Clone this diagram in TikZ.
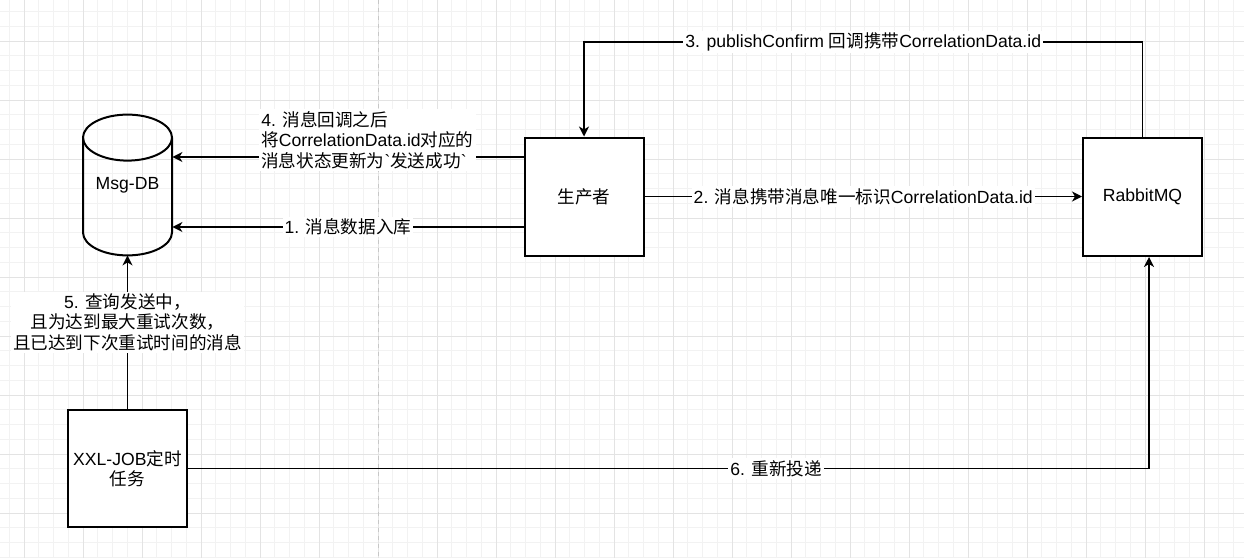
\documentclass[tikz,border=0pt]{standalone}
\usepackage{fontspec}
\setmainfont{Liberation Sans}
\newfontfamily\cjk{Noto Sans CJK SC}
\newfontfamily\rawfont{Liberation Sans}[Ligatures=TeXOff]
\usetikzlibrary{arrows.meta,calc}
\newcommand\dgfont{\fontsize{8.8pt}{10.25pt}\selectfont}
\begin{document}
\begin{tikzpicture}[x=0.5pt,y=-0.5pt,
  box/.style={draw, line width=1pt, minimum width=59.5pt, minimum height=59pt, inner sep=0pt, align=center, font=\dgfont, fill=white},
  arr/.style={line width=0.75pt, -{Stealth[length=5pt,width=5pt,inset=1.5pt]}},
  lbl/.style={fill=white, inner sep=1pt, font=\dgfont},
  minorg/.style={draw=black!5, line width=0.5pt},
  majorg/.style={draw=black!11, line width=0.5pt}]
\useasboundingbox (0,0) rectangle (1244,558);
\fill[white] (0,0) rectangle (1244,558);
% grid
\foreach \i in {0,...,84} {\draw[minorg] ({9.25+14.75*\i},0) -- ++(0,558);}
\foreach \i in {0,...,37} {\draw[minorg] (0,{11.5+14.75*\i}) -- ++(1244,0);}
\foreach \i in {0,...,20} {\draw[majorg] ({24+59*\i},0) -- ++(0,558);}
\foreach \i in {0,...,8} {\draw[majorg] (0,{41+59*\i}) -- ++(1244,0);}
\draw[black!22, line width=0.5pt, dash pattern=on 2pt off 2pt] (378,0) -- (378,558);

% nodes
\node[minimum width=44.5pt, minimum height=70pt, inner sep=0pt, font=\dgfont] (db) at (127.5,185) {Msg-DB};
\path (db.north) ++(0,23) coordinate (dbtc);
\path (db.south) ++(0,-23) coordinate (dbbc);
\draw[line width=1pt] ($(dbtc)+(-44.5,0)$) -- ($(dbbc)+(-44.5,0)$)
  arc[start angle=180, end angle=360, x radius=22.25pt, y radius=11.5pt]
  -- ($(dbtc)+(44.5,0)$);
\draw[line width=1pt] (dbtc) ellipse [x radius=22.25pt, y radius=11.5pt];

\node[box] (prod) at (584,196.5) {{\cjk 生产者}};
\node[box] (mq) at (1142.5,197) {RabbitMQ};
\node[box, minimum height=58.5pt] (job) at (127.5,468.5) {XXL-JOB{\cjk 定时}\\{\cjk 任务}};

% connectors
\draw[arr] ($(prod.west)+(0,30.5)$) coordinate (p1) -- node[lbl]{1. {\cjk 消息数据入库}} (p1 -| db.east);
\draw[arr] (prod.east) -- node[lbl]{2. {\cjk 消息携带消息唯一标识}CorrelationData.id} (prod.east -| mq.west);
\draw[arr] (mq.north) -- ++(0,-95) -| node[lbl,pos=0.25]{3. publishConfirm {\cjk 回调携带}CorrelationData.id} (prod.north);
\draw[arr] ($(prod.west)+(0,-39.5)$) coordinate (p4) -- node[lbl,align=left,xshift=9.75pt,yshift=8.5pt]{4. {\cjk 消息回调之后}\\{\cjk 将}CorrelationData.id{\cjk 对应的}\\{\cjk 消息状态更新为}{\rawfont`}{\cjk 发送成功}{\rawfont`}} (p4 -| db.east);
\draw[arr] (job.north) -- node[lbl,align=center,yshift=5pt]{5. {\cjk 查询发送中，}\\{\cjk 且为达到最大重试次数，}\\{\cjk 且已达到下次重试时间的消息}} (db.south);
\draw[arr] (job.east) -| node[lbl,pos=0.306]{6. {\cjk 重新投递}} ($(mq.south)+(6.5,0)$);
\end{tikzpicture}
\end{document}
